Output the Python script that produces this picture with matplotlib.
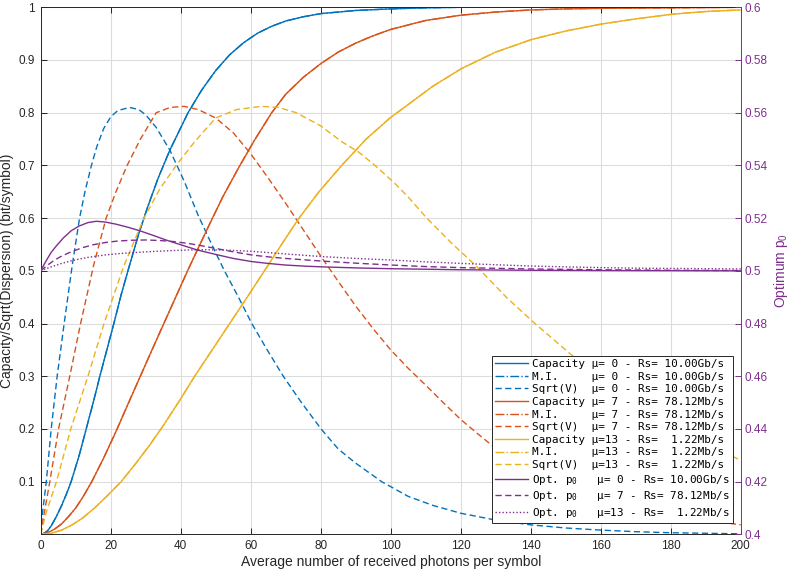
import matplotlib
matplotlib.use("Agg")
import matplotlib.pyplot as plt

plt.rcParams['font.family'] = ['Liberation Sans', 'DejaVu Sans']
plt.rcParams['mathtext.fontset'] = 'custom'
plt.rcParams['mathtext.rm'] = 'Liberation Sans'
plt.rcParams['mathtext.tt'] = 'DejaVu Sans Mono'

# values
# mu = 0, Rs = 10.00 Gb/s
cap0_x = [0, 1, 2, 3, 4.5, 6, 7.5, 8.7, 11, 13, 15, 16.9, 18.9, 20.9, 23, 25.4, 28, 30.5, 33.5,
          36.9, 42.1, 46, 50, 54, 58, 62, 66, 70, 75, 80, 90, 100, 110, 120, 200]
cap0_y = [0, 0.002, 0.007, 0.016, 0.034, 0.055, 0.079, 0.1, 0.15, 0.2, 0.25, 0.3, 0.35, 0.4,
          0.455, 0.511, 0.57, 0.62, 0.675, 0.729, 0.8, 0.843, 0.88, 0.91, 0.933, 0.951, 0.964,
          0.974, 0.982, 0.988, 0.994, 0.997, 0.999, 1.0, 1.0]
sv0_x = [0, 0.5, 1.6, 3.0, 4.7, 6.7, 9.0, 11.1, 12.7, 14.5, 16, 18, 20, 22, 25.4, 28, 30, 33,
         36.9, 41, 45, 49, 52.5, 56.5, 60.3, 64.7, 69.3, 74.5, 80.1, 85, 90, 97.4, 105, 112,
         120, 130, 140, 150, 160, 170, 180, 190, 200]
sv0_y = [0, 0.04, 0.1, 0.2, 0.3, 0.4, 0.51, 0.6, 0.652, 0.7, 0.735, 0.77, 0.792, 0.804, 0.81,
         0.806, 0.796, 0.772, 0.729, 0.67, 0.605, 0.548, 0.5, 0.45, 0.4, 0.35, 0.3, 0.25, 0.2,
         0.162, 0.135, 0.1, 0.072, 0.055, 0.04, 0.027, 0.018, 0.012, 0.008, 0.005, 0.003,
         0.002, 0.001]

# mu = 7, Rs = 78.12 Mb/s
cap7_x = [0, 2, 4, 6, 8, 10, 12, 14.6, 18, 21.5, 25, 27.8, 31, 34.5, 38.3, 42.1, 45.5, 48.5,
          52, 56.5, 61, 66, 70, 75, 80, 85, 90, 95, 100, 110, 120, 130, 140, 150, 160, 180, 200]
cap7_y = [0, 0.003, 0.01, 0.02, 0.034, 0.05, 0.07, 0.1, 0.145, 0.195, 0.248, 0.29, 0.338, 0.39,
          0.446, 0.502, 0.55, 0.592, 0.64, 0.695, 0.747, 0.8, 0.835, 0.867, 0.893, 0.915,
          0.932, 0.946, 0.958, 0.975, 0.985, 0.991, 0.995, 0.997, 0.998, 0.999, 1.0]
sv7_x = [0, 1, 2.6, 5.1, 8.3, 11.4, 15.1, 18.7, 21.5, 24.7, 28.5, 33, 37, 41, 45, 50, 55, 60,
         65, 70, 75, 80, 85, 90, 95, 100, 105, 110, 115, 120, 125, 130, 140, 150, 160, 170, 180,
         190, 200]
sv7_y = [0, 0.04, 0.1, 0.2, 0.3, 0.4, 0.51, 0.6, 0.65, 0.7, 0.75, 0.8, 0.81, 0.812, 0.806,
         0.79, 0.762, 0.722, 0.676, 0.628, 0.578, 0.528, 0.48, 0.433, 0.39, 0.35, 0.315, 0.283,
         0.25, 0.218, 0.19, 0.163, 0.125, 0.095, 0.072, 0.053, 0.038, 0.027, 0.018]

# mu = 13, Rs = 1.22 Mb/s
cap13_x = [0, 3, 6, 9, 12, 15.4, 19, 23, 27, 31, 34.9, 39.5, 44, 49.8, 54, 59.5, 65, 69.3,
           73.6, 79.5, 86, 93, 99.8, 105.5, 112, 120.3, 130, 140.3, 150, 160, 170, 180.6,
           190, 200]
cap13_y = [0, 0.002, 0.008, 0.018, 0.031, 0.05, 0.073, 0.1, 0.133, 0.168, 0.205, 0.252, 0.3,
           0.358, 0.4, 0.455, 0.511, 0.555, 0.598, 0.65, 0.7, 0.75, 0.79, 0.818, 0.85, 0.884,
           0.915, 0.939, 0.955, 0.968, 0.978, 0.987, 0.992, 0.995]
sv13_x = [0, 1.5, 4.5, 8.6, 13.5, 18.1, 23.8, 29.5, 34, 38.7, 44, 50, 56, 63, 68, 73, 80,
          86, 90.7, 95.5, 101, 105, 110.3, 117, 124.6, 133, 141.2, 151.2, 160, 170, 180,
          190, 200]
sv13_y = [0, 0.04, 0.1, 0.2, 0.3, 0.4, 0.51, 0.6, 0.655, 0.7, 0.745, 0.79, 0.806, 0.812,
          0.81, 0.8, 0.775, 0.745, 0.726, 0.7, 0.667, 0.64, 0.6, 0.555, 0.508, 0.45, 0.4,
          0.343, 0.295, 0.25, 0.21, 0.175, 0.14]

# optimum p0 (right axis)
p0_0_x = [0, 1, 2, 3, 4.5, 6.5, 8.7, 11, 13.5, 15.9, 18.5, 21.5, 25, 28.3, 32, 36, 40.2, 45,
          50.7, 55, 60.3, 65, 69.8, 75, 80.3, 90, 100, 120, 140, 160, 200]
p0_0_y = [0.5, 0.5025, 0.5048, 0.507, 0.5095, 0.5125, 0.5152, 0.517, 0.5183, 0.5188, 0.5185,
          0.5177, 0.5165, 0.5152, 0.5135, 0.5116, 0.5098, 0.5078, 0.506, 0.5047, 0.5035,
          0.5028, 0.5022, 0.5018, 0.5015, 0.5011, 0.5008, 0.5004, 0.5002, 0.5001, 0.5]
p0_7_x = [0, 2, 4, 6, 8.7, 12, 15, 18.3, 22, 26, 30, 34, 38, 42.1, 46, 50, 55, 60.3, 65,
          69.8, 75, 80.3, 90, 100, 110, 120.3, 140, 160, 180, 200]
p0_7_y = [0.5, 0.5022, 0.5041, 0.5056, 0.5072, 0.5088, 0.5099, 0.5107, 0.5113, 0.5116,
          0.5117, 0.5115, 0.5111, 0.5104, 0.5095, 0.5085, 0.5072, 0.506, 0.5053, 0.5047,
          0.5042, 0.5037, 0.5029, 0.5022, 0.5016, 0.5012, 0.5007, 0.5004, 0.5002, 0.5001]
p0_13_x = [0, 3, 6, 8.7, 13, 18.3, 23, 27.8, 33, 38, 42.1, 47, 52, 60.3, 70, 80.3, 90, 100,
           110, 120.3, 130, 140.3, 150, 160, 170, 180, 190, 200]
p0_13_y = [0.5, 0.5015, 0.5028, 0.5038, 0.505, 0.506, 0.5066, 0.507, 0.5074, 0.5077, 0.5079,
           0.508, 0.5079, 0.5074, 0.5064, 0.5054, 0.5047, 0.5041, 0.5034, 0.5028, 0.5023,
           0.5018, 0.5015, 0.5012, 0.501, 0.5009, 0.5008, 0.5007]

labels = ['Capacity \u03bc= 0 - Rs= 10.00Gb/s', 'M.I.     \u03bc= 0 - Rs= 10.00Gb/s',
          'Sqrt(V)  \u03bc= 0 - Rs= 10.00Gb/s',
          'Capacity \u03bc= 7 - Rs= 78.12Mb/s', 'M.I.     \u03bc= 7 - Rs= 78.12Mb/s',
          'Sqrt(V)  \u03bc= 7 - Rs= 78.12Mb/s',
          'Capacity \u03bc=13 - Rs=  1.22Mb/s', 'M.I.     \u03bc=13 - Rs=  1.22Mb/s',
          'Sqrt(V)  \u03bc=13 - Rs=  1.22Mb/s',
          'Opt. p$_\\mathtt{0}$   \u03bc= 0 - Rs= 10.00Gb/s',
          'Opt. p$_\\mathtt{0}$   \u03bc= 7 - Rs= 78.12Mb/s',
          'Opt. p$_\\mathtt{0}$   \u03bc=13 - Rs=  1.22Mb/s']

blue, red, yellow, purple = '#0072BD', '#D95319', '#EDB120', '#7E2F8E'
dark = '#262626'
dash = (0, (4.5, 2.5))

fig = plt.figure(figsize=(7.95, 5.7), dpi=100)
ax = fig.add_axes([0.0512, 0.0626, 0.8805, 0.9246])
ax2 = ax.twinx()

handles = []
for cx, cy, sx, sy, col in [(cap0_x, cap0_y, sv0_x, sv0_y, blue),
                            (cap7_x, cap7_y, sv7_x, sv7_y, red),
                            (cap13_x, cap13_y, sv13_x, sv13_y, yellow)]:
    h1, = ax.plot(cx, cy, color=col, lw=1.0)
    h2, = ax.plot(cx, cy, color=col, lw=1.0, ls='-.')
    h3, = ax.plot(sx, sy, color=col, lw=1.0, ls=dash)
    handles += [h1, h2, h3]

h, = ax2.plot(p0_0_x, p0_0_y, color=purple, lw=1.0)
handles.append(h)
h, = ax2.plot(p0_7_x, p0_7_y, color=purple, lw=1.0, ls=dash)
handles.append(h)
h, = ax2.plot(p0_13_x, p0_13_y, color=purple, lw=1.0, ls=(0, (1, 1.5)))
handles.append(h)

ax.set_xlim(0, 200)
ax.set_ylim(0, 1)
ax2.set_ylim(0.4, 0.6)
ax.set_xticks(range(0, 201, 20))
ax.set_yticks([0.1 * i for i in range(1, 11)])
ax.set_yticklabels(['0.1', '0.2', '0.3', '0.4', '0.5', '0.6', '0.7', '0.8', '0.9', '1'])
ax2.set_yticks([0.4 + 0.02 * i for i in range(11)])
ax2.set_yticklabels(['0.4', '0.42', '0.44', '0.46', '0.48', '0.5', '0.52', '0.54', '0.56',
                     '0.58', '0.6'])

ax.set_axisbelow(True)
ax.grid(True, color='#dcdcdc', lw=0.8)
ax.tick_params(direction='in', top=True, right=False, length=4, width=0.7, color=dark,
               labelcolor=dark, labelsize=8.5, pad=4)
ax2.tick_params(direction='in', length=4, width=0.7, color=purple, labelcolor=purple,
                labelsize=8.5, pad=3)
for s in ['left', 'bottom', 'top']:
    ax.spines[s].set_color(dark)
    ax.spines[s].set_linewidth(0.7)
ax2.spines['right'].set_color(purple)
ax2.spines['right'].set_linewidth(0.7)
ax2.spines['left'].set_visible(False)
ax2.spines['top'].set_visible(False)
ax2.spines['bottom'].set_visible(False)
ax.spines['right'].set_visible(False)

ax.set_xlabel('Average number of received photons per symbol', fontsize=10, color=dark,
              labelpad=2)
ax.set_ylabel('Capacity/Sqrt(Dispersion) (bit/symbol)', fontsize=10, color=dark, labelpad=3)
ax2.set_ylabel('Optimum p$_\\mathrm{0}$', fontsize=10, color=purple, labelpad=3)

leg = ax2.legend(handles, labels, loc='lower right', bbox_to_anchor=(0.989, 0.021),
                 borderaxespad=0, prop={'family': 'DejaVu Sans Mono', 'size': 7.9},
                 handlelength=3.0, handletextpad=0.35, labelspacing=0.24, borderpad=0.3,
                 fancybox=False, framealpha=1, edgecolor=dark)
leg.get_frame().set_linewidth(0.7)

fig.savefig('out.png', dpi=100)
